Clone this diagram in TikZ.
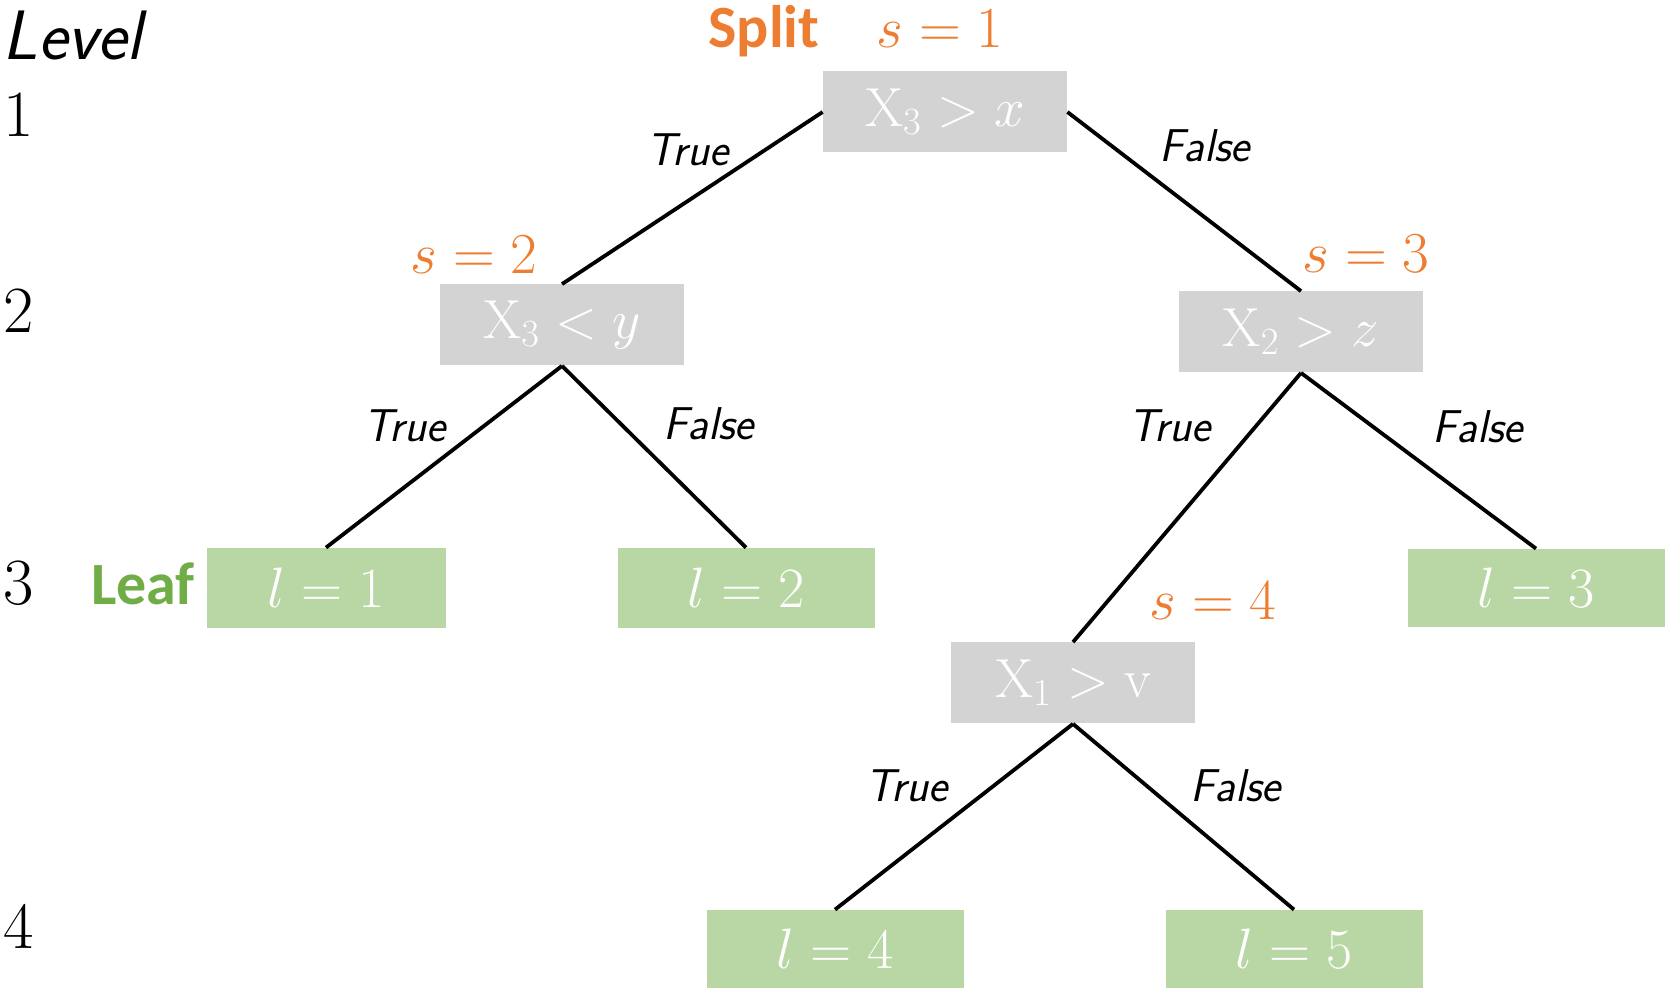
\documentclass[tikz,border=0pt]{standalone}
\usepackage{fix-cm}
\usepackage{fontspec}
\newfontfamily\calfont{Carlito}
\definecolor{boxgray}{RGB}{211,211,211}
\definecolor{leafgreen}{RGB}{185,215,165}
\definecolor{splitorange}{RGB}{237,125,49}
\definecolor{leaftext}{RGB}{112,173,71}
\begin{document}
\begin{tikzpicture}[x=0.5pt,y=-0.5pt,
  splitbox/.style={fill=boxgray, text=white, minimum width=122pt, minimum height=40.5pt, inner sep=0pt, font=\fontsize{27.5}{30}\selectfont},
  leafbox/.style={fill=leafgreen, text=white, minimum width=128.5pt, minimum height=40pt, inner sep=0pt, font=\fontsize{28.5}{31}\selectfont},
  edgeline/.style={line width=1.9pt, black},
  lbl/.style={anchor=base, inner sep=0pt, font=\sffamily\itshape\fontsize{23}{26}\selectfont},
  orangelbl/.style={anchor=base, inner sep=0pt, text=splitorange, font=\fontsize{29}{32}\selectfont},
  levnum/.style={anchor=base west, inner sep=0pt, font=\fontsize{33}{36}\selectfont},
  kind/.style={anchor=base, inner sep=0pt, font=\calfont\bfseries\fontsize{30}{33}\selectfont}
]
\useasboundingbox (0,0) rectangle (1672,988);

% level column
\node[anchor=base west, inner sep=0pt, font=\sffamily\itshape\fontsize{35}{38}\selectfont] (level) at (2,60) {Level};
\node[levnum] (n1) at (3,137) {1};
\node[levnum] (n2) at (3,333) {2};
\node[levnum] (n3) at (3,605) {3};
\node[levnum] (n4) at (3,949) {4};

% split nodes
\node[splitbox] (A) at (945,112) {$\mathrm{X}_3 > x$};
\node[splitbox] (B) at (562,325) {$\mathrm{X}_3 < y$};
\node[splitbox] (C) at (1301,332) {$\mathrm{X}_2 > z$};
\node[splitbox] (D) at (1073,683) {$\mathrm{X}_1 > \mathrm{v}$};

% leaves
\node[leafbox, minimum width=119.5pt] (L1) at (326,588) {$l = 1$};
\node[leafbox] (L2) at (746,588) {$l = 2$};
\node[leafbox, minimum height=39pt] (L3) at (1536,588) {$l = 3$};
\node[leafbox, minimum height=39pt] (L4) at (835,949) {$l = 4$};
\node[leafbox, minimum height=39pt] (L5) at (1294,949) {$l = 5$};

% headers
\node[kind, text=splitorange] (split) at (764,48) {Split};
\node[kind, text=leaftext] (leaf) at (143,605) {Leaf};
\node[orangelbl] (s1) at (940,48) {$s = 1$};
\node[orangelbl] (s2) at (474,274) {$s = 2$};
\node[orangelbl] (s3) at (1366,273) {$s = 3$};
\node[orangelbl] (s4) at (1213,620) {$s = 4$};

% connectors
\draw[edgeline] (A.west) -- (B.north);
\draw[edgeline] (A.east) -- (C.north);
\draw[edgeline] (B.south) -- (L1.north);
\draw[edgeline] (B.south) -- (L2.north);
\draw[edgeline] (C.south) -- (D.north);
\draw[edgeline] (C.south) -- (L3.north);
\draw[edgeline] (D.south) -- (L4.north);
\draw[edgeline] (D.south) -- (L5.north);

% edge labels
\node[lbl] (t1) at (688,166) {True};
\node[lbl] (f1) at (1205,162) {False};
\node[lbl] (t2) at (405,442) {True};
\node[lbl] (f2) at (709,440) {False};
\node[lbl] (t3) at (1170,442) {True};
\node[lbl] (f3) at (1478,443) {False};
\node[lbl] (t4) at (907,802) {True};
\node[lbl] (f4) at (1236,802) {False};
\end{tikzpicture}
\end{document}
